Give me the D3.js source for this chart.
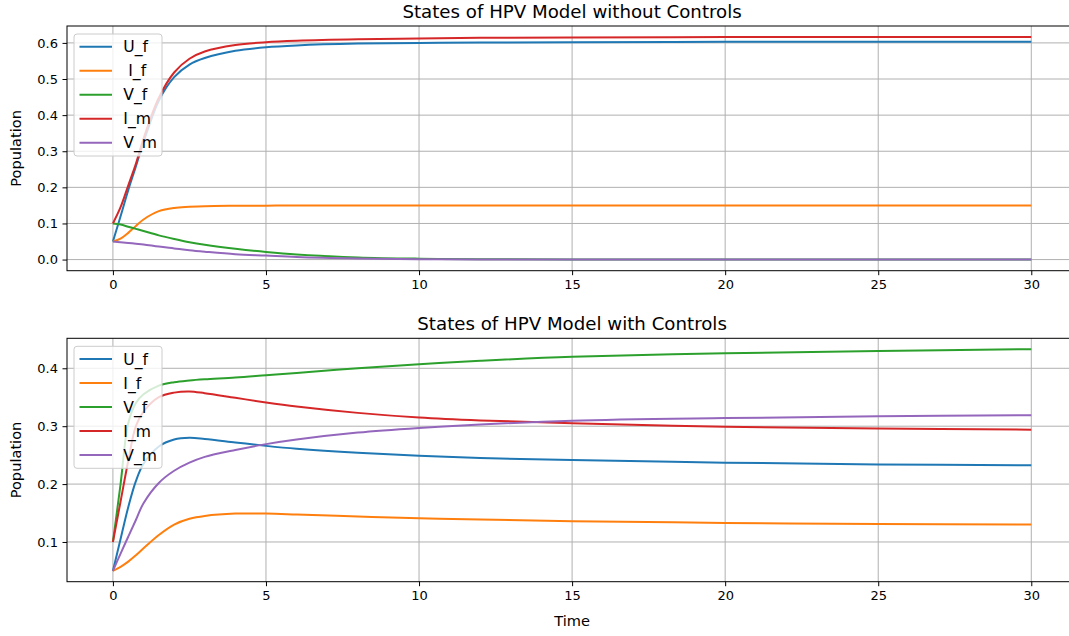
<!DOCTYPE html>
<html><head><meta charset="utf-8">
<script src="https://cdn.jsdelivr.net/npm/d3@7"></script>
<style>body{margin:0;background:#fff;} svg{display:block;} text{font-family:"DejaVu Sans",sans-serif;fill:#000;}</style>
</head><body><svg id="c" width="1069" height="636"></svg>
<script>
const time = [0,0.25,0.5,0.75,1,1.5,2,2.5,3,4,5,6,8,10,12,15,20,25,30];
const seriesNames = ["U_f","I_f","V_f","I_m","V_m"];
const topLegendLabels = ["U_f"," I_f","V_f","I_m","V_m"];
const botLegendLabels = ["U_f","I_f","V_f","I_m","V_m"];
// Without controls
const top_U_f = [0.05,0.12,0.192,0.258,0.325,0.44,0.505,0.54,0.558,0.578,0.588,0.593,0.598,0.6,0.601,0.602,0.603,0.603,0.603];
const top_I_f = [0.05,0.058,0.074,0.093,0.111,0.134,0.143,0.146,0.148,0.149,0.1493,0.1496,0.1498,0.15,0.15,0.15,0.15,0.15,0.15];
const top_V_f = [0.1,0.097,0.091,0.085,0.079,0.067,0.057,0.048,0.041,0.03,0.021,0.014,0.006,0.0025,0.001,0.0003,0,0,0];
const top_I_m = [0.1,0.145,0.205,0.265,0.335,0.448,0.518,0.556,0.576,0.594,0.602,0.606,0.61,0.612,0.614,0.615,0.616,0.616,0.616];
const top_V_m = [0.05,0.048,0.046,0.044,0.042,0.036,0.031,0.026,0.022,0.015,0.011,0.007,0.003,0.0012,0.0005,0.0001,0,0,0];
// With controls
const bot_U_f = [0.05,0.105,0.16,0.205,0.235,0.265,0.277,0.28,0.278,0.272,0.266,0.261,0.254,0.249,0.245,0.2415,0.237,0.234,0.2325];
const bot_I_f = [0.05,0.057,0.066,0.077,0.089,0.112,0.13,0.14,0.145,0.149,0.149,0.1475,0.144,0.141,0.139,0.136,0.133,0.131,0.130];
const bot_V_f = [0.1,0.2,0.305,0.34,0.355,0.37,0.376,0.379,0.381,0.384,0.388,0.392,0.4,0.407,0.413,0.42,0.426,0.43,0.433];
const bot_I_m = [0.1,0.17,0.24,0.3,0.325,0.35,0.358,0.36,0.357,0.349,0.341,0.334,0.323,0.315,0.31,0.305,0.299,0.296,0.294];
const bot_V_m = [0.05,0.08,0.109,0.138,0.167,0.202,0.223,0.237,0.247,0.259,0.269,0.277,0.289,0.297,0.303,0.3095,0.314,0.317,0.319];
const xTicks = [0,5,10,15,20,25,30];
const topYTicks = [0.0,0.1,0.2,0.3,0.4,0.5,0.6];
const botYTicks = [0.1,0.2,0.3,0.4];
const colors = ["#1f77b4","#ff7f0e","#2ca02c","#d62728","#9467bd"];

const svg = d3.select("#c");
const L = 67, R = 1077.2;

function panel(cfg){
  const {top, bottom, ydom, yticks, series, labels, title, xlabel, id} = cfg;
  const x = d3.scaleLinear().domain([-1.5,31.5]).range([L,R]);
  const y = d3.scaleLinear().domain(ydom).range([bottom, top]);
  const g = svg.append("g");
  g.append("clipPath").attr("id",id).append("rect").attr("x",L).attr("y",top).attr("width",R-L).attr("height",bottom-top);
  g.append("g").selectAll("line").data(xTicks).join("line")
    .attr("x1",d=>x(d)).attr("x2",d=>x(d)).attr("y1",top).attr("y2",bottom)
    .attr("stroke","#b0b0b0").attr("stroke-width",1);
  g.append("g").selectAll("line").data(yticks).join("line")
    .attr("y1",d=>y(d)).attr("y2",d=>y(d)).attr("x1",L).attr("x2",R)
    .attr("stroke","#b0b0b0").attr("stroke-width",1);
  const line = d3.line().x((d,i)=>x(time[i])).y(d=>y(d)).curve(d3.curveCatmullRom.alpha(0.5));
  g.append("g").attr("clip-path",`url(#${id})`).selectAll("path").data(series).join("path")
    .attr("d",d=>line(d)).attr("fill","none").attr("stroke",(d,i)=>colors[i]).attr("stroke-width",2);
  const xa = g.append("g").attr("transform",`translate(0,${bottom})`)
    .call(d3.axisBottom(x).tickValues(xTicks).tickSize(4.5).tickPadding(4.5).tickFormat(d3.format("d")));
  const ya = g.append("g").attr("transform",`translate(${L},0)`)
    .call(d3.axisLeft(y).tickValues(yticks).tickSize(4.5).tickPadding(4.5).tickFormat(d3.format(".1f")));
  [xa,ya].forEach(a=>{a.select(".domain").remove(); a.selectAll("line").attr("stroke","#000").attr("stroke-width",1);
    a.selectAll("text").attr("font-size",13).attr("font-family","DejaVu Sans").attr("fill","#000");});
  g.append("rect").attr("x",L).attr("y",top).attr("width",R-L).attr("height",bottom-top)
    .attr("fill","none").attr("stroke","#000").attr("stroke-width",1);
  g.append("text").attr("x",(L+R)/2).attr("y",top-8).attr("text-anchor","middle").attr("font-size",18.2).text(title);
  g.append("text").attr("transform",`translate(21,${(top+bottom)/2}) rotate(-90)`).attr("text-anchor","middle")
    .attr("font-size",14.6).text("Population");
  if (xlabel) g.append("text").attr("x",(L+R)/2).attr("y",bottom+44).attr("text-anchor","middle").attr("font-size",14.6).text(xlabel);
  const lx = 74, ly = top+8;
  const lg = g.append("g");
  lg.append("rect").attr("x",lx).attr("y",ly).attr("width",88).attr("height",122).attr("rx",3)
    .attr("fill","#fff").attr("fill-opacity",0.8).attr("stroke","#cccccc").attr("stroke-width",1);
  labels.forEach((lab,i)=>{
    const yy = ly + 12.7 + i*24;
    lg.append("line").attr("x1",lx+5.5).attr("x2",lx+38).attr("y1",yy).attr("y2",yy).attr("stroke",colors[i]).attr("stroke-width",2);
    lg.append("text").attr("x",lx+49.3).attr("y",yy+5.6).attr("font-size",15.6).style("white-space","pre").text(lab);
  });
}
panel({top:26, bottom:270.7, ydom:[-0.0308,0.6468], yticks:topYTicks,
  series:[top_U_f,top_I_f,top_V_f,top_I_m,top_V_m], labels:topLegendLabels,
  title:"States of HPV Model without Controls", id:"c1"});
panel({top:338.3, bottom:581.7, ydom:[0.0314,0.4518], yticks:botYTicks,
  series:[bot_U_f,bot_I_f,bot_V_f,bot_I_m,bot_V_m], labels:botLegendLabels,
  title:"States of HPV Model with Controls", xlabel:"Time", id:"c2"});
</script></body></html>
